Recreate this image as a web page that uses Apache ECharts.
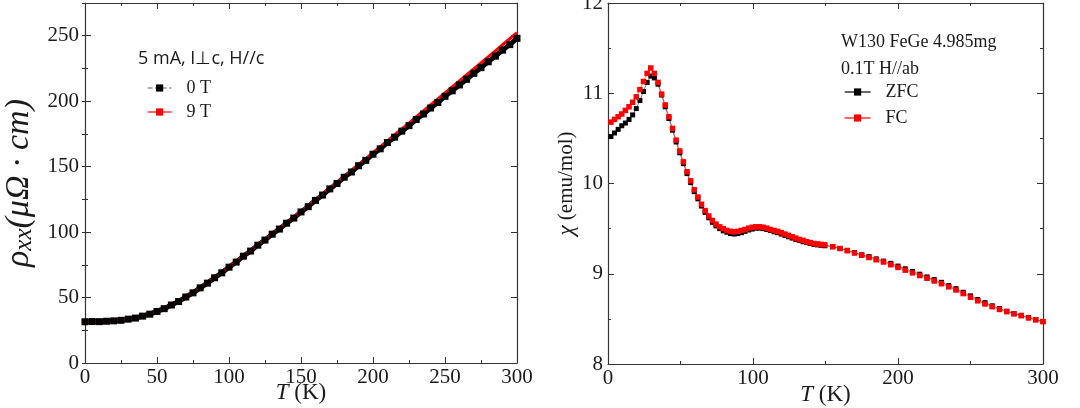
<!DOCTYPE html>
<html lang="en">
<head>
<meta charset="UTF-8">
<script src="https://cdn.jsdelivr.net/npm/echarts@6/dist/echarts.min.js"></script>
<title>rho and chi vs T</title>
<style>
  html, body { margin: 0; padding: 0; background: #fff; }
  #container { width: 1080px; height: 408px; }
</style>
</head>
<body>
<div id="container"></div>
<script type="text/javascript">
// left panel: rho_xx (uOhm cm) vs T (K), 5 K steps
var rhoT = [0,5,10,15,20,25,30,35,40,45,50,55,60,65,70,75,80,85,90,95,100,105,110,115,120,125,130,135,140,145,150,155,160,165,170,175,180,185,190,195,200,205,210,215,220,225,230,235,240,245,250,255,260,265,270,275,280,285,290,295,300];
var rho0T = [31.5,31.7,31.6,31.9,32.2,32.6,33.5,34.3,35.8,37.3,39.4,41.5,44.3,47.0,50.4,53.6,57.4,61.0,65.1,68.9,73.2,77.1,81.6,85.5,90.0,93.9,98.4,102.3,106.8,110.7,115.4,119.4,124.2,128.3,133.0,137.1,141.9,145.9,150.7,154.8,159.5,163.6,168.4,172.5,177.1,181.3,186.0,190.2,194.8,199.0,203.7,207.9,212.4,216.7,221.3,225.6,230.1,234.4,239.0,243.2,248.0];
var rho9T = [31.8,31.8,31.9,32.1,32.4,32.9,33.6,34.6,35.9,37.6,39.5,41.8,44.4,47.3,50.5,53.9,57.5,61.3,65.2,69.2,73.3,77.5,81.7,85.9,90.1,94.3,98.5,102.7,107.0,111.3,115.7,120.1,124.6,129.0,133.5,138.0,142.5,147.0,151.5,156.0,160.6,165.1,169.7,174.2,178.8,183.3,187.9,192.5,197.1,201.7,206.3,210.9,215.5,220.1,224.7,229.3,233.9,238.5,243.1,247.7,252.3];

// right panel: chi (emu/mol) vs T (K)
var chiT = [2,4.5,7,9.5,12,14.5,17,19.5,22,24.5,27,29.5,32,34.5,37,39.5,42,44.5,47,49.5,52,54.5,57,59.5,62,64.5,67,69.5,72,74.5,77,79.5,82,84.5,87,89.5,92,94.5,97,99.5,102,104.5,107,109.5,112,114.5,117,119.5,122,124.5,127,129.5,132,134.5,137,139.5,142,144.5,147,149.5,155,160,165,170,175,180,185,190,195,200,205,210,215,220,225,230,235,240,245,250,255,260,265,270,275,280,285,290,295,300];
var chiFC = [10.68,10.71,10.74,10.77,10.81,10.85,10.90,10.96,11.04,11.13,11.22,11.28,11.22,11.12,10.99,10.87,10.74,10.61,10.48,10.36,10.24,10.13,10.03,9.93,9.85,9.77,9.70,9.64,9.59,9.55,9.52,9.50,9.48,9.47,9.465,9.47,9.48,9.49,9.505,9.515,9.52,9.52,9.515,9.505,9.49,9.48,9.47,9.455,9.44,9.425,9.41,9.395,9.38,9.37,9.355,9.345,9.335,9.33,9.325,9.32,9.30,9.28,9.255,9.23,9.205,9.18,9.155,9.13,9.10,9.07,9.04,9.01,8.98,8.95,8.92,8.89,8.855,8.82,8.78,8.74,8.70,8.665,8.635,8.605,8.58,8.555,8.535,8.51,8.49,8.47];
var chiZFC = [10.52,10.56,10.60,10.64,10.67,10.71,10.76,10.83,10.92,11.02,11.12,11.19,11.17,11.10,10.98,10.85,10.72,10.59,10.46,10.34,10.22,10.11,10.01,9.91,9.83,9.75,9.68,9.62,9.57,9.53,9.50,9.475,9.46,9.445,9.44,9.445,9.455,9.47,9.485,9.495,9.505,9.505,9.50,9.49,9.48,9.465,9.455,9.44,9.425,9.41,9.395,9.38,9.37,9.355,9.345,9.335,9.325,9.32,9.315,9.31,9.30,9.28,9.26,9.235,9.21,9.19,9.165,9.14,9.115,9.085,9.055,9.025,8.995,8.965,8.935,8.905,8.87,8.835,8.795,8.755,8.715,8.68,8.645,8.615,8.585,8.56,8.54,8.515,8.49,8.47];

function pairs(xs, ys) {
    return xs.map(function (x, i) { return [x, ys[i]]; });
}

var serif = 'Liberation Serif';
var axisColor = '#333';
var ink = '#1a1a1a';

function xAx(grid, interval, pos, labels) {
    return {
        type: 'value', gridIndex: grid, position: pos, min: 0, max: 300, interval: interval,
        axisLine: { show: true, onZero: false, lineStyle: { color: axisColor, width: 1.2 } },
        axisTick: { show: true, inside: true, length: 6, lineStyle: { color: axisColor } },
        minorTick: { show: true, splitNumber: 2, length: 3, lineStyle: { color: axisColor } },
        axisLabel: { show: labels, margin: 4, fontFamily: serif, fontSize: 21, color: ink },
        splitLine: { show: false }
    };
}

var tName = {
    name: '{i|T} (K)', nameLocation: 'middle', nameGap: 18, nameMoveOverlap: false,
    nameTextStyle: { fontFamily: serif, fontSize: 23, color: ink, rich: { i: { fontFamily: serif, fontStyle: 'italic', fontSize: 23, color: ink } } }
};

var dom = document.getElementById('container');
var myChart = echarts.init(dom, null, { renderer: 'canvas' });

var option = {
    animation: false,
    backgroundColor: '#fff',
    textStyle: { fontFamily: serif },
    title: [
        { text: '5 mA, I\u22a5c, H//c', left: 133, top: 45, textStyle: { fontFamily: 'Open Sans', fontSize: 18, fontWeight: 'normal', color: ink } },
        { text: 'W130 FeGe 4.985mg', left: 836, top: 28, textStyle: { fontFamily: serif, fontSize: 18, fontWeight: 'normal', color: ink } },
        { text: '0.1T H//ab', left: 836, top: 55, textStyle: { fontFamily: serif, fontSize: 18, fontWeight: 'normal', color: ink } }
    ],
    legend: [
        {
            orient: 'vertical', left: 142, top: 74, itemGap: 6, itemWidth: 24, itemHeight: 9,
            textStyle: { fontFamily: serif, fontSize: 18, color: ink, padding: [0, 0, 0, 10] },
            data: [
                { name: '0 T', lineStyle: { color: '#666', width: 1.2, type: 'dashed' } },
                { name: '9 T', lineStyle: { color: '#ff0000', width: 1.2 } }
            ]
        },
        {
            orient: 'vertical', left: 839, top: 78, itemGap: 8, itemWidth: 26, itemHeight: 9,
            textStyle: { fontFamily: serif, fontSize: 18, color: ink, padding: [0, 0, 0, 10] },
            data: [
                { name: 'ZFC', lineStyle: { color: '#000', width: 1.2 } },
                { name: 'FC', lineStyle: { color: '#ff0000', width: 1.2 } }
            ]
        }
    ],
    grid: [
        { left: 85, top: 3, width: 432, height: 360, outerBoundsMode: 'none', containLabel: false },
        { left: 608, top: 3, width: 435, height: 361, outerBoundsMode: 'none', containLabel: false }
    ],
    xAxis: [
        Object.assign(xAx(0, 50, 'bottom', true), tName),
        xAx(0, 50, 'top', false),
        Object.assign(xAx(1, 100, 'bottom', true), tName, { nameGap: 19 }),
        xAx(1, 100, 'top', false)
    ],
    yAxis: [
        {
            type: 'value', gridIndex: 0, position: 'left', min: 0, max: 275, interval: 50,
            axisLine: { show: true, onZero: false, lineStyle: { color: axisColor, width: 1.2 } },
            axisTick: { show: true, inside: true, length: 6, lineStyle: { color: axisColor } },
            axisLabel: { margin: 6, fontFamily: serif, fontSize: 21, color: ink, formatter: function (v) { return v % 50 === 0 ? String(v) : ''; } },
            splitLine: { show: false },
            name: '{r|\u03c1}{s|xx}{r|(\u03bc\u03a9 \u00b7 cm)}', nameLocation: 'middle', nameGap: 48, nameRotate: 90,
            nameTextStyle: {
                rich: {
                    r: { fontFamily: serif, fontStyle: 'italic', fontSize: 34, color: ink, lineHeight: 36, verticalAlign: 'middle' },
                    s: { fontFamily: serif, fontStyle: 'italic', fontSize: 25, color: ink, lineHeight: 36, verticalAlign: 'bottom' }
                }
            }
        },
        {
            type: 'value', gridIndex: 0, position: 'left', min: 0, max: 275, interval: 25,
            axisLine: { show: false }, axisLabel: { show: false }, splitLine: { show: false },
            axisTick: { show: true, inside: true, length: 3, lineStyle: { color: axisColor } }
        },
        {
            type: 'value', gridIndex: 0, position: 'right', min: 0, max: 275, interval: 50,
            axisLine: { show: true, onZero: false, lineStyle: { color: axisColor, width: 1.2 } },
            axisTick: { show: true, inside: true, length: 6, lineStyle: { color: axisColor } },
            axisLabel: { show: false }, splitLine: { show: false }
        },
        {
            type: 'value', gridIndex: 0, position: 'right', min: 0, max: 275, interval: 25,
            axisLine: { show: false }, axisLabel: { show: false }, splitLine: { show: false },
            axisTick: { show: true, inside: true, length: 3, lineStyle: { color: axisColor } }
        },
        {
            type: 'value', gridIndex: 1, position: 'left', min: 8, max: 12, interval: 1,
            axisLine: { show: true, onZero: false, lineStyle: { color: axisColor, width: 1.2 } },
            axisTick: { show: true, inside: true, length: 6, lineStyle: { color: axisColor } },
            minorTick: { show: true, splitNumber: 2, length: 3, lineStyle: { color: axisColor } },
            axisLabel: { margin: 5, fontFamily: serif, fontSize: 21, color: ink },
            splitLine: { show: false },
            name: '{g|\u03c7} (emu/mol)', nameLocation: 'middle', nameGap: 29, nameRotate: 90,
            nameTextStyle: { fontFamily: serif, fontSize: 21, color: ink, rich: { g: { fontFamily: serif, fontStyle: 'italic', fontSize: 23, color: ink } } }
        },
        {
            type: 'value', gridIndex: 1, position: 'right', min: 8, max: 12, interval: 1,
            axisLine: { show: true, onZero: false, lineStyle: { color: axisColor, width: 1.2 } },
            axisTick: { show: true, inside: true, length: 6, lineStyle: { color: axisColor } },
            minorTick: { show: true, splitNumber: 2, length: 3, lineStyle: { color: axisColor } },
            axisLabel: { show: false }, splitLine: { show: false }
        }
    ],
    series: [
        {
            name: '0 T', type: 'line', xAxisIndex: 0, yAxisIndex: 0,
            data: pairs(rhoT, rho0T), symbol: 'rect', symbolSize: 7,
            lineStyle: { color: '#000', width: 5 }, itemStyle: { color: '#000' }
        },
        {
            name: '9 T', type: 'line', xAxisIndex: 0, yAxisIndex: 0,
            data: pairs(rhoT, rho9T), symbol: 'rect', symbolSize: 3, showSymbol: false,
            lineStyle: { color: '#ff0000', width: 3 }, itemStyle: { color: '#ff0000' }
        },
        {
            name: 'ZFC', type: 'line', xAxisIndex: 2, yAxisIndex: 4,
            data: pairs(chiT, chiZFC), symbol: 'rect', symbolSize: 5,
            lineStyle: { color: '#000', width: 0.5 }, itemStyle: { color: '#000' }
        },
        {
            name: 'FC', type: 'line', xAxisIndex: 2, yAxisIndex: 4,
            data: pairs(chiT, chiFC), symbol: 'rect', symbolSize: 5.5,
            lineStyle: { color: '#ff0000', width: 0.5 }, itemStyle: { color: '#ff0000' }
        }
    ]
};

myChart.setOption(option);
window.addEventListener('resize', myChart.resize);
</script>
</body>
</html>
